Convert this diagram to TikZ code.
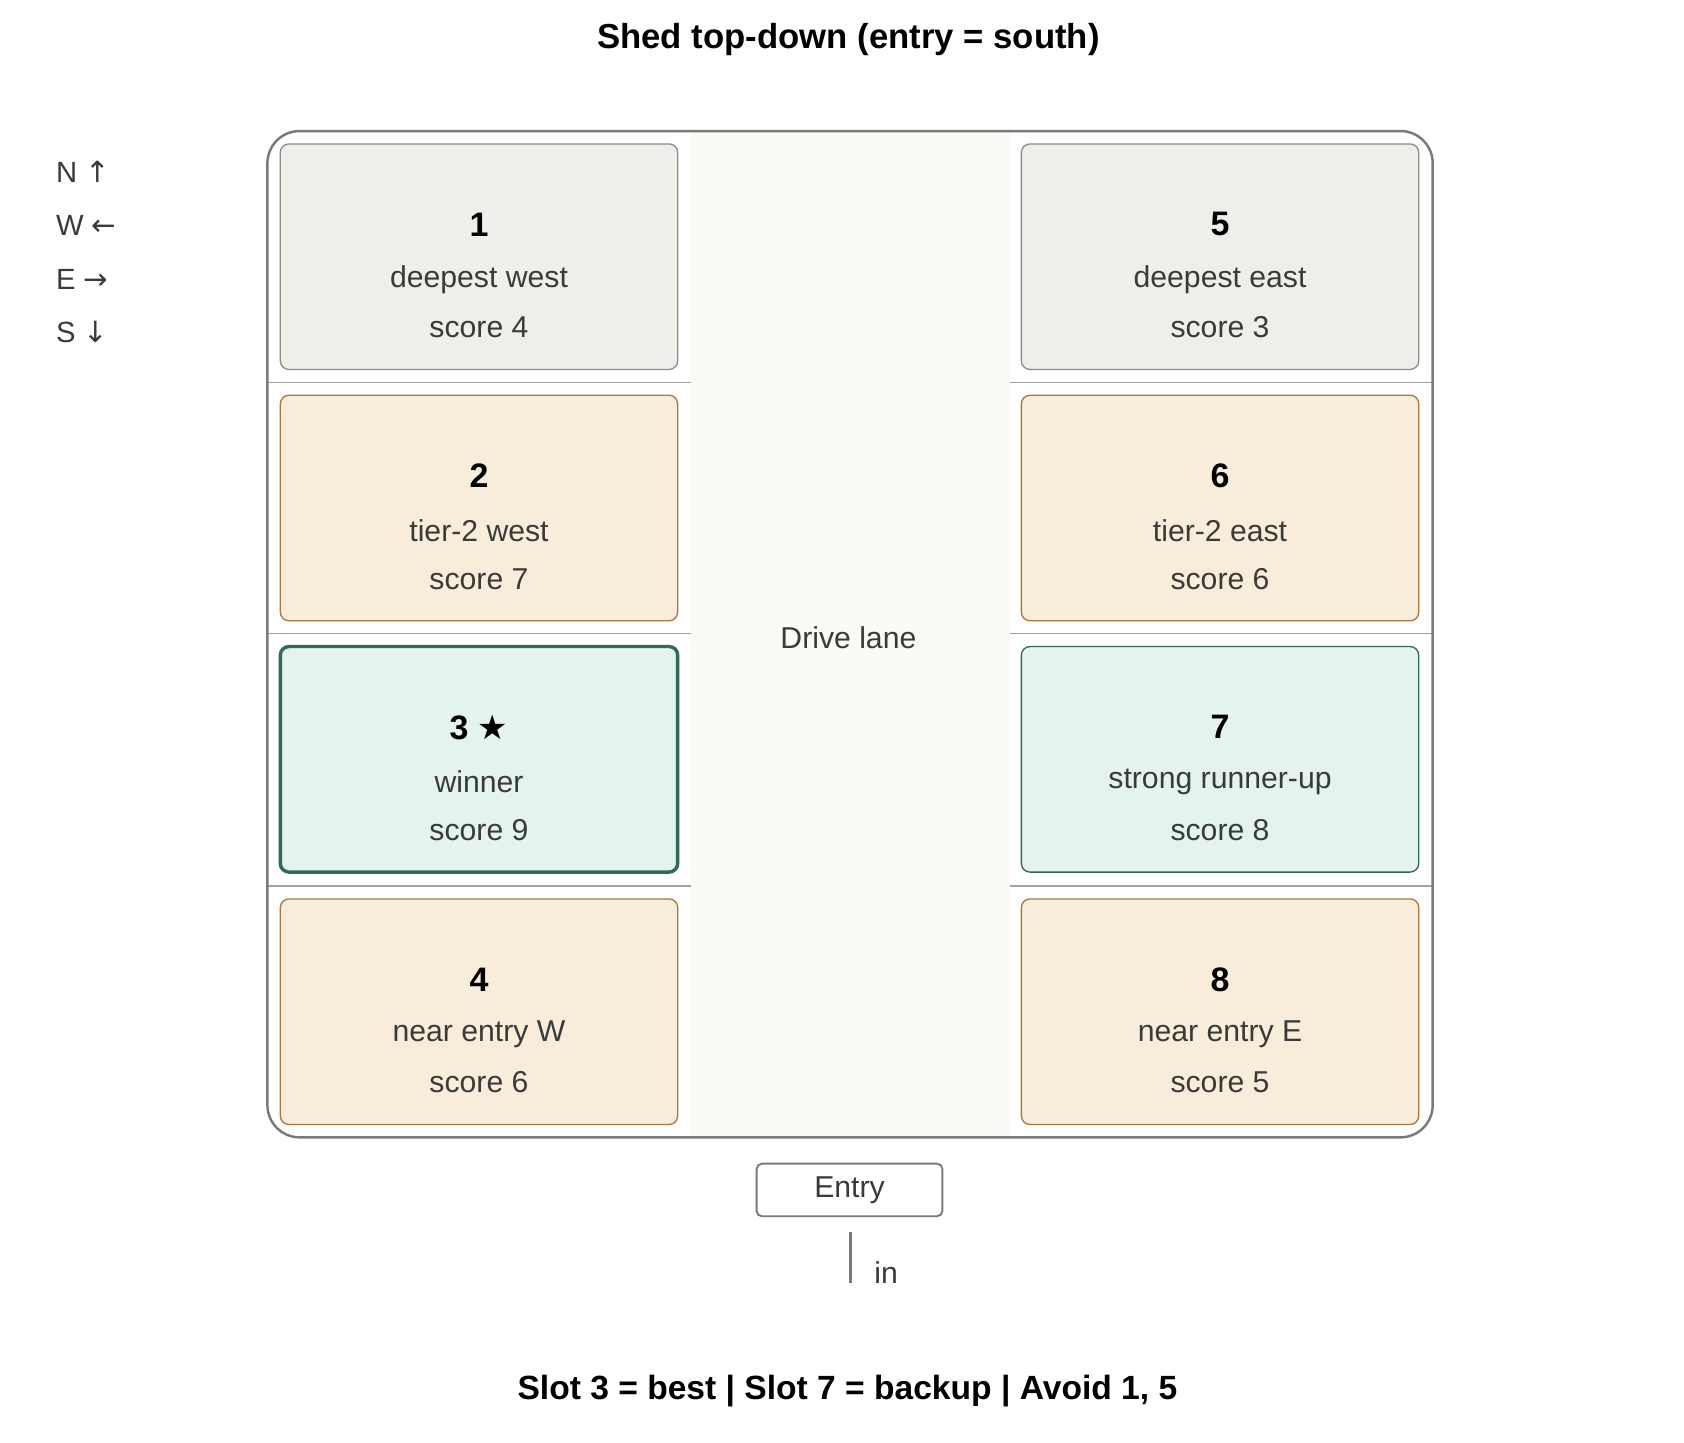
\documentclass[tikz,border=0pt]{standalone}
\usepackage{fontspec}
\setmainfont{Liberation Sans}
\newfontfamily\symfont{DejaVu Sans}
\usepackage{tikz}

\definecolor{framegray}{HTML}{7A7A78}
\definecolor{lanefill}{HTML}{FAFAF6}
\definecolor{deepfill}{HTML}{F0EEE9}
\definecolor{deepline}{HTML}{8C8C8A}
\definecolor{tanfill}{HTML}{F7EDDA}
\definecolor{tanline}{HTML}{A8783F}
\definecolor{greenfill}{HTML}{E4F3ED}
\definecolor{greenline}{HTML}{2F6B55}
\definecolor{inkgray}{HTML}{3A3A38}

\begin{document}
\begin{tikzpicture}[
  x=0.02cm, y=-0.02cm,
  slot/.style={rectangle, rounded corners=8*0.02cm, minimum width=370*0.02cm, minimum height=210*0.02cm, line width=0.7pt},
  deep/.style={slot, draw=deepline, fill=deepfill},
  tier/.style={slot, draw=tanline, fill=tanfill},
  good/.style={slot, draw=greenline, fill=greenfill},
  best/.style={good, line width=1.8pt},
  num/.style={font=\fontsize{18}{20}\selectfont\bfseries, text=black},
  lbl/.style={font=\fontsize{16}{18}\selectfont, text=inkgray},
  compass/.style={font=\fontsize{15.5}{17}\selectfont, text=inkgray, anchor=west},
  sep/.style={draw=framegray!70, line width=0.6pt}
]
\useasboundingbox (0,0) rectangle (1568,1343);

% Title
\node[font=\fontsize{18.4}{21}\selectfont\bfseries] (title) at (790,37) {Shed top-down (entry = south)};

% Compass legend
\node[compass] (cn) at (46,160) {N {\symfont ↑}};
\node[compass] (cw) at (46,210) {W {\symfont ←}};
\node[compass] (ce) at (46,260) {E {\symfont →}};
\node[compass] (cs) at (46,309) {S {\symfont ↓}};

% Drive lane and frame
\fill[lanefill] (643,122) rectangle (940,1059);
\draw[sep] (249,356) -- (643,356) (249,590) -- (643,590) (249,825) -- (643,825);
\draw[sep] (940,356) -- (1334,356) (940,590) -- (1334,590) (940,825) -- (1334,825);
\draw[framegray, line width=1.3pt, rounded corners=30*0.02cm] (249,122) rectangle (1334,1059);
\node[lbl] (lane) at (790,594) {Drive lane};

% West slots
\node[deep] (s1) at (446,239) {};
\node[tier] (s2) at (446,473) {};
\node[best] (s3) at (446,707) {};
\node[tier] (s4) at (446,942) {};

% East slots
\node[deep] (s5) at (1136,239) {};
\node[tier] (s6) at (1136,473) {};
\node[good] (s7) at (1136,707) {};
\node[tier] (s8) at (1136,942) {};

% Slot texts
\foreach \s/\n/\t/\v in {s1/1/deepest west/4, s2/2/tier-2 west/7, s3/3 {\symfont ★}/winner/9, s4/4/near entry W/6,
                         s5/5/deepest east/3, s6/6/tier-2 east/6, s7/7/strong runner-up/8, s8/8/near entry E/5}{
  \node[num] at ([yshift=30*0.02cm]\s.center) {\n};
  \node[lbl] at ([yshift=-21*0.02cm]\s.center) {\t};
  \node[lbl] at ([yshift=-66*0.02cm]\s.center) {score \v};
}

% Entry
\node[rectangle, draw=framegray, line width=1pt, rounded corners=5*0.02cm, minimum width=173*0.02cm, minimum height=49*0.02cm, lbl] (entry) at (791,1108) {Entry};
\coordinate (intop) at (792,1147);
\coordinate (inbot) at (792,1195);
\draw[framegray, line width=1.5pt] (intop) -- (inbot);
\node[lbl, anchor=west] (inlbl) at (808,1185) {in};

% Summary
\node[font=\fontsize{17.8}{20}\selectfont\bfseries] (summary) at (789,1295) {Slot 3 = best | Slot 7 = backup | Avoid 1, 5};

\end{tikzpicture}
\end{document}
